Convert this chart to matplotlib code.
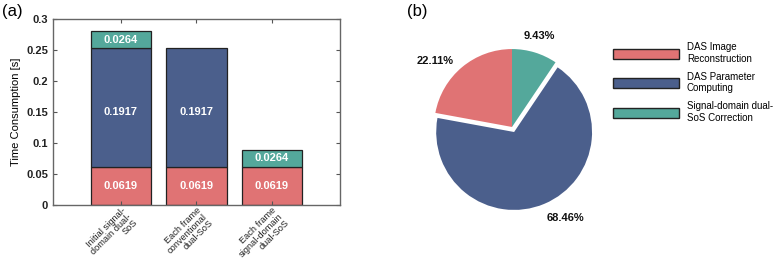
import matplotlib
matplotlib.use("Agg")
import matplotlib.pyplot as plt
from matplotlib.patches import Patch
import numpy as np

plt.rcParams['font.family'] = ['Liberation Sans', 'DejaVu Sans']

categories = ["Initial signal-\ndomain dual-\nSoS", "Each frame\nconventional\ndual-SoS",
              "Each frame\nsignal-domain\ndual-SoS"]
das_image = [0.0619, 0.0619, 0.0619]
das_param = [0.1917, 0.1917, 0.0]
sos_corr = [0.0264, 0.0, 0.0264]

pie_labels = ["DAS Image\nReconstruction", "DAS Parameter\nComputing", "Signal-domain dual-\nSoS Correction"]
pie_values = [22.11, 68.46, 9.43]

c_red = "#E07374"
c_blue = "#4B5F8C"
c_teal = "#54A89B"

fig = plt.figure(figsize=(7.76, 2.65), dpi=100)

# ---- (a) stacked bars ----
ax = fig.add_axes([0.0683, 0.2264, 0.3697, 0.7016])
x = np.arange(1, len(categories) + 1)
w = 0.8
b1 = ax.bar(x, das_image, w, color=c_red, edgecolor="#222222", linewidth=0.9)
b2 = ax.bar(x, das_param, w, bottom=das_image, color=c_blue, edgecolor="#222222", linewidth=0.9)
bottom3 = [a + b for a, b in zip(das_image, das_param)]
b3 = ax.bar(x, sos_corr, w, bottom=bottom3, color=c_teal, edgecolor="#222222", linewidth=0.9)
for bars, vals in ((b2, das_param), (b3, sos_corr)):
    for r, v in zip(bars, vals):
        if v == 0:
            r.set_visible(False)

for bars, vals, bots, frac in ((b1, das_image, [0, 0, 0], 0.5), (b2, das_param, das_image, 0.46),
                               (b3, sos_corr, bottom3, 0.5)):
    for xi, v, bo in zip(x, vals, bots):
        if v > 0:
            ax.text(xi, bo + v * frac, f"{v:.4f}", ha="center", va="center", color="white",
                    fontsize=8, fontweight="bold")

ax.set_xlim(0.1, 3.9)
ax.set_ylim(0, 0.3)
ax.set_yticks(np.arange(0, 0.301, 0.05))
ax.set_yticklabels(["0", "0.05", "0.1", "0.15", "0.2", "0.25", "0.3"], fontsize=8, fontweight="bold")
ax.set_xticks(x)
ax.set_xticklabels(categories, rotation=45, ha="right", rotation_mode="anchor", fontsize=6.7,
                   multialignment="right", linespacing=0.95)
ax.set_ylabel("Time Consumption [s]", fontsize=8)
ax.tick_params(direction="in", top=True, right=True, length=3, width=0.8, colors="#555555",
               labelcolor="#222222")
ax.tick_params(axis="x", pad=0.5)
for s in ax.spines.values():
    s.set_color("#666666")
    s.set_linewidth(1.0)
fig.text(0.003, 0.985, "(a)", fontsize=12, ha="left", va="top")

# ---- (b) pie ----
axp = fig.add_axes([0.5393, 0.168, 0.241, 0.7057])
wedges, texts, autotexts = axp.pie(pie_values, colors=[c_red, c_blue, c_teal], startangle=90,
                                   counterclock=True, explode=[0, 0.07, 0],
                                   autopct="%.2f%%", pctdistance=1.22,
                                   textprops=dict(fontsize=8, fontweight="bold", color="#111111"))
nudges = [(-0.2, -0.09), (0.18, 0.02), (-0.01, 0.0)]
for t, (dx, dy) in zip(autotexts, nudges):
    px, py = t.get_position()
    t.set_position((px + dx, py + dy))
axp.set_xlim(-1.2, 1.2)
axp.set_ylim(-1.2, 1.2)
axp.set_aspect("equal")
fig.text(0.524, 0.985, "(b)", fontsize=12, ha="left", va="top")

handles = [Patch(facecolor=c, edgecolor="#222222", linewidth=1.0) for c in (c_red, c_blue, c_teal)]
fig.legend(handles, pie_labels, loc="upper left", bbox_to_anchor=(0.790, 0.84), frameon=False,
           fontsize=7, handlelength=6.8, handleheight=1.25, labelspacing=0.8, handletextpad=0.8,
           borderaxespad=0, borderpad=0)

fig.savefig("out.png", dpi=100)
